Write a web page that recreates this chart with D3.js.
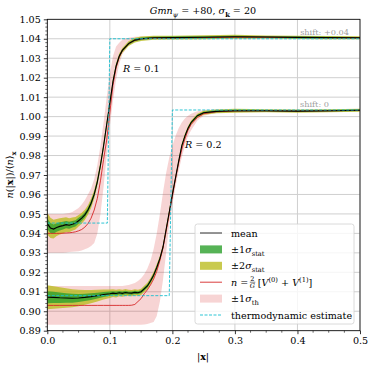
<!DOCTYPE html>
<html>
<head>
<meta charset="utf-8">
<script src="https://cdn.jsdelivr.net/npm/d3@7"></script>
<style>
  body { margin: 0; background: #fff; }
  svg text { font-family: "DejaVu Serif", serif !important; }
</style>
</head>
<body>
<div id="chart"></div>
<script>
// Size of the figure
const width = 374;
const height = 369;

// ---- data ----
// R = 0.1 (shifted by +0.04)
const x1 = [0, 0.005, 0.01, 0.015, 0.02, 0.025, 0.03, 0.035, 0.04, 0.045, 0.05, 0.055, 0.06, 0.065, 0.07, 0.075, 0.08, 0.085, 0.09, 0.095, 0.1, 0.105, 0.11, 0.115, 0.12, 0.13, 0.14, 0.15, 0.17, 0.2, 0.25, 0.3, 0.35, 0.4, 0.45, 0.5];
const mean1 = [0.9450, 0.9428, 0.9422, 0.9430, 0.9436, 0.9440, 0.9445, 0.9442, 0.9447, 0.9452, 0.9465, 0.9478, 0.9495, 0.9520, 0.9555, 0.9600, 0.9665, 0.9750, 0.9850, 0.9960, 1.0070, 1.0180, 1.0260, 1.0310, 1.0340, 1.0375, 1.0393, 1.0400, 1.0405, 1.0406, 1.0408, 1.0410, 1.0409, 1.0407, 1.0406, 1.0405];
const sig1 = [0.0028, 0.0026, 0.0024, 0.0022, 0.0021, 0.0020, 0.0019, 0.0018, 0.0017, 0.0016, 0.0015, 0.0014, 0.0013, 0.0012, 0.0012, 0.0011, 0.0010, 0.0010, 0.0009, 0.0009, 0.0008, 0.0008, 0.0007, 0.0007, 0.0006, 0.0006, 0.0006, 0.0006, 0.0005, 0.0005, 0.0005, 0.0005, 0.0004, 0.0004, 0.0004, 0.0004];
const theory1 = [0.9400, 0.9400, 0.9400, 0.9400, 0.9400, 0.9401, 0.9402, 0.9403, 0.9405, 0.9408, 0.9413, 0.9420, 0.9432, 0.9450, 0.9478, 0.9520, 0.9580, 0.9670, 0.9780, 0.9880, 1.0020, 1.0160, 1.0250, 1.0305, 1.0340, 1.0375, 1.0392, 1.0399, 1.0403, 1.0404, 1.0406, 1.0408, 1.0408, 1.0406, 1.0405, 1.0404];
const thLo1 = [0.9300, 0.9300, 0.9300, 0.9300, 0.9300, 0.9300, 0.9302, 0.9304, 0.9306, 0.9307, 0.9308, 0.9312, 0.9318, 0.9325, 0.9335, 0.9350, 0.9400, 0.9500, 0.9640, 0.9800, 0.9950, 1.0080, 1.0190, 1.0270, 1.0320, 1.0365, 1.0388, 1.0395, 1.0400, 1.0401, 1.0403, 1.0405, 1.0405, 1.0403, 1.0402, 1.0401];
const thHi1 = [0.9500, 0.9500, 0.9500, 0.9500, 0.9500, 0.9500, 0.9502, 0.9505, 0.9510, 0.9520, 0.9530, 0.9548, 0.9570, 0.9600, 0.9630, 0.9680, 0.9750, 0.9850, 0.9970, 1.0100, 1.0220, 1.0310, 1.0360, 1.0380, 1.0395, 1.0405, 1.0410, 1.0412, 1.0412, 1.0411, 1.0411, 1.0412, 1.0411, 1.0410, 1.0409, 1.0408];

// R = 0.2 (no shift)
const x2 = [0, 0.01, 0.02, 0.03, 0.04, 0.05, 0.06, 0.07, 0.08, 0.09, 0.1, 0.105, 0.11, 0.115, 0.12, 0.125, 0.13, 0.135, 0.14, 0.145, 0.15, 0.155, 0.16, 0.165, 0.17, 0.175, 0.18, 0.185, 0.19, 0.195, 0.2, 0.205, 0.21, 0.215, 0.22, 0.225, 0.23, 0.24, 0.25, 0.27, 0.3, 0.35, 0.4, 0.45, 0.5];
const mean2 = [0.9072, 0.9071, 0.9069, 0.9068, 0.9067, 0.9068, 0.9071, 0.9075, 0.9080, 0.9086, 0.9090, 0.9093, 0.9091, 0.9095, 0.9092, 0.9096, 0.9094, 0.9093, 0.9097, 0.9095, 0.9100, 0.9115, 0.9130, 0.9155, 0.9185, 0.9225, 0.9270, 0.9330, 0.9420, 0.9510, 0.9600, 0.9685, 0.9770, 0.9850, 0.9900, 0.9940, 0.9970, 1.0005, 1.0020, 1.0027, 1.0030, 1.0030, 1.0028, 1.0030, 1.0033];
const sig2 = [0.0031, 0.0029, 0.0027, 0.0025, 0.0023, 0.0021, 0.0019, 0.0017, 0.0015, 0.0013, 0.0011, 0.0010, 0.0010, 0.0009, 0.0009, 0.0009, 0.0008, 0.0008, 0.0008, 0.0008, 0.0008, 0.0008, 0.0008, 0.0008, 0.0008, 0.0008, 0.0007, 0.0007, 0.0007, 0.0007, 0.0007, 0.0006, 0.0006, 0.0006, 0.0006, 0.0005, 0.0005, 0.0005, 0.0005, 0.0005, 0.0005, 0.0004, 0.0004, 0.0004, 0.0004];
const theory2 = [0.9030, 0.9030, 0.9030, 0.9030, 0.9030, 0.9030, 0.9030, 0.9030, 0.9030, 0.9030, 0.9030, 0.9030, 0.9030, 0.9030, 0.9030, 0.9030, 0.9030, 0.9031, 0.9035, 0.9050, 0.9065, 0.9090, 0.9110, 0.9135, 0.9165, 0.9205, 0.9260, 0.9325, 0.9410, 0.9500, 0.9590, 0.9680, 0.9760, 0.9830, 0.9885, 0.9930, 0.9960, 0.9995, 1.0015, 1.0025, 1.0029, 1.0030, 1.0029, 1.0030, 1.0032];
const thLo2 = [0.8930, 0.8930, 0.8930, 0.8930, 0.8930, 0.8930, 0.8930, 0.8930, 0.8930, 0.8930, 0.8930, 0.8930, 0.8930, 0.8930, 0.8930, 0.8930, 0.8930, 0.8930, 0.8930, 0.8930, 0.8930, 0.8932, 0.8935, 0.8940, 0.8945, 0.8975, 0.9050, 0.9160, 0.9300, 0.9450, 0.9550, 0.9640, 0.9720, 0.9790, 0.9850, 0.9900, 0.9930, 0.9980, 1.0005, 1.0018, 1.0024, 1.0026, 1.0025, 1.0026, 1.0028];
const thHi2 = [0.9130, 0.9130, 0.9130, 0.9130, 0.9130, 0.9130, 0.9130, 0.9130, 0.9130, 0.9130, 0.9130, 0.9130, 0.9130, 0.9130, 0.9130, 0.9132, 0.9135, 0.9140, 0.9145, 0.9155, 0.9170, 0.9190, 0.9220, 0.9260, 0.9320, 0.9400, 0.9500, 0.9610, 0.9710, 0.9790, 0.9850, 0.9900, 0.9940, 0.9970, 0.9990, 1.0005, 1.0015, 1.0028, 1.0034, 1.0036, 1.0036, 1.0036, 1.0035, 1.0036, 1.0037];

// thermodynamic estimate (step shapes)
const thermoX1 = [0, 0.096, 0.1, 0.5];
const thermoY1 = [0.9453, 0.9453, 1.0400, 1.0400];
const thermoX2 = [0, 0.195, 0.2, 0.5];
const thermoY2 = [0.9080, 0.9080, 1.0034, 1.0034];

// ticks
const xTicks = [0, 0.1, 0.2, 0.3, 0.4, 0.5];
const yTicks = [0.89, 0.90, 0.91, 0.92, 0.93, 0.94, 0.95, 0.96, 0.97, 0.98, 0.99, 1.00, 1.01, 1.02, 1.03, 1.04, 1.05];

// colours
const cGreen = "#2ca02c", cOlive = "#bcbd22", cRed = "#d62728", cCyan = "#17becf";

const svg = d3.select("#chart").append("svg")
    .attr("width", width)
    .attr("height", height);

const x = d3.scaleLinear().domain([0, 0.5]).range([47.3, 360]);
const y = d3.scaleLinear().domain([0.89, 1.05]).range([330.7, 19.3]);

// build rows for the generators
const rows = (xs, m, s, t, lo, hi) => xs.map((v, i) => ({x: v, m: m[i], s: s[i], t: t[i], lo: lo[i], hi: hi[i]}));
const curves = [
    rows(x1, mean1, sig1, theory1, thLo1, thHi1),
    rows(x2, mean2, sig2, theory2, thLo2, thHi2)
];
const thermo = [
    thermoX1.map((v, i) => [v, thermoY1[i]]),
    thermoX2.map((v, i) => [v, thermoY2[i]])
];

svg.append("defs").append("clipPath").attr("id", "clip")
  .append("rect")
    .attr("x", x(0)).attr("y", y(1.05))
    .attr("width", x(0.5) - x(0)).attr("height", y(0.89) - y(1.05));

// grid
const grid = svg.append("g");
grid.selectAll(".gx").data(xTicks).enter().append("line")
    .attr("x1", d => x(d)).attr("x2", d => x(d))
    .attr("y1", y(0.89)).attr("y2", y(1.05))
    .style("stroke", "#cfcfcf").style("stroke-width", 1);
grid.selectAll(".gy").data(yTicks).enter().append("line")
    .attr("x1", x(0)).attr("x2", x(0.5))
    .attr("y1", d => y(d)).attr("y2", d => y(d))
    .style("stroke", "#cfcfcf").style("stroke-width", 1);

const plot = svg.append("g").attr("clip-path", "url(#clip)");

const band = (lo, hi) => d3.area().x(d => x(d.x)).y0(lo).y1(hi);
const line = (f) => d3.line().x(d => x(d.x)).y(f);

// theory uncertainty bands
curves.forEach(c => {
    plot.append("path").datum(c)
        .attr("d", band(d => y(d.lo), d => y(d.hi)))
        .style("fill", cRed).style("fill-opacity", 0.2);
});
// statistical bands
curves.forEach(c => {
    plot.append("path").datum(c)
        .attr("d", band(d => y(d.m - 2 * d.s), d => y(d.m + 2 * d.s)))
        .style("fill", cOlive).style("fill-opacity", 0.8);
});
curves.forEach(c => {
    plot.append("path").datum(c)
        .attr("d", band(d => y(d.m - d.s), d => y(d.m + d.s)))
        .style("fill", cGreen).style("fill-opacity", 0.8);
});
// theory lines
curves.forEach(c => {
    plot.append("path").datum(c)
        .attr("d", line(d => y(d.t)))
        .style("fill", "none").style("stroke", cRed).style("stroke-width", 0.9);
});
// mean lines
curves.forEach(c => {
    plot.append("path").datum(c)
        .attr("d", line(d => y(d.m)))
        .style("fill", "none").style("stroke", "#000").style("stroke-width", 1.1);
});
// thermodynamic estimate
thermo.forEach(t => {
    plot.append("path").datum(t)
        .attr("d", d3.line().x(d => x(d[0])).y(d => y(d[1])))
        .style("fill", "none").style("stroke", cCyan)
        .style("stroke-width", 0.9).style("stroke-dasharray", "3,1.5");
});

// axes
const fs = 9.6;
const xAxis = d3.axisBottom(x).tickValues(xTicks).tickFormat(d3.format(".1f")).tickSize(3.5).tickPadding(3);
const yAxis = d3.axisLeft(y).tickValues(yTicks).tickFormat(d3.format(".2f")).tickSize(3.5).tickPadding(3);
const gx = svg.append("g").attr("transform", `translate(0,${y(0.89)})`).call(xAxis);
const gy = svg.append("g").attr("transform", `translate(${x(0)},0)`).call(yAxis);
[gx, gy].forEach(g => {
    g.attr("font-family", null);
    g.select(".domain").remove();
    g.selectAll("text").style("font-size", fs + "px").style("fill", "#000");
    g.selectAll("line").style("stroke", "#000").style("stroke-width", 0.8);
});

// minor ticks
const xMinor = d3.range(0, 0.5001, 0.025).filter(v => Math.abs(v * 10 - Math.round(v * 10)) > 1e-6);
const yMinor = d3.range(0.89, 1.0501, 0.002).filter(v => Math.abs(v * 100 - Math.round(v * 100)) > 1e-6);
svg.append("g").selectAll("line").data(xMinor).enter().append("line")
    .attr("x1", d => x(d)).attr("x2", d => x(d))
    .attr("y1", y(0.89)).attr("y2", y(0.89) + 2)
    .style("stroke", "#000").style("stroke-width", 0.6);
svg.append("g").selectAll("line").data(yMinor).enter().append("line")
    .attr("x1", x(0) - 2).attr("x2", x(0))
    .attr("y1", d => y(d)).attr("y2", d => y(d))
    .style("stroke", "#000").style("stroke-width", 0.6);

// frame
svg.append("rect")
    .attr("x", x(0)).attr("y", y(1.05))
    .attr("width", x(0.5) - x(0)).attr("height", y(0.89) - y(1.05))
    .style("fill", "none").style("stroke", "#000").style("stroke-width", 0.8);

// rich text helper: parts = [[text, {i, b, sub, sup}]]
function rich(t, parts, size) {
    let shift = 0;
    parts.forEach(([s, o = {}]) => {
        const target = o.sub ? size * 0.28 : o.sup ? -size * 0.4 : 0;
        const ts = t.append("tspan").text(s)
            .attr("dy", target - shift)
            .style("font-size", (o.sub || o.sup ? size * 0.7 : size) + "px");
        if (o.i) ts.style("font-style", "italic");
        if (o.b) ts.style("font-weight", "bold");
        shift = target;
    });
    return t;
}

// title
rich(svg.append("text").attr("x", 203).attr("y", 14).attr("text-anchor", "middle"),
    [["Gmn", {i: 1}], ["ψ", {i: 1, sub: 1}], [" = +80,  "], ["σ", {i: 1}], ["k", {b: 1, sub: 1}], [" = 20"]], fs);

// axis labels
rich(svg.append("text").attr("x", 203).attr("y", 360).attr("text-anchor", "middle"),
    [["|"], ["x", {b: 1}], ["|"]], fs);
rich(svg.append("text").attr("transform", "translate(13,175) rotate(-90)").attr("text-anchor", "middle"),
    [["n", {i: 1}], ["(|"], ["x", {b: 1}], ["|)/⟨"], ["n", {i: 1}], ["⟩"], ["x", {b: 1, sub: 1}]], fs);

// annotations
svg.append("text").attr("x", 349).attr("y", 35).attr("text-anchor", "end")
    .style("font-size", "8.2px").style("fill", "#a0a0a0").text("shift: +0.04");
svg.append("text").attr("x", 300).attr("y", 107)
    .style("font-size", "8.2px").style("fill", "#a0a0a0").text("shift: 0");
rich(svg.append("text").attr("x", 123).attr("y", 72), [["R", {i: 1}], [" = 0.1"]], fs);
rich(svg.append("text").attr("x", 185).attr("y", 148), [["R", {i: 1}], [" = 0.2"]], fs);

// legend
const lg = svg.append("g");
lg.append("rect").attr("x", 195).attr("y", 224).attr("width", 159).attr("height", 100)
    .attr("rx", 2.5)
    .style("fill", "#fff").style("fill-opacity", 0.8)
    .style("stroke", "#d0d0d0").style("stroke-width", 0.8);
const rowY = i => 233 + i * 16.4;
const hx0 = 200, hx1 = 222, tx = 231;
// handles
lg.append("line").attr("x1", hx0).attr("x2", hx1).attr("y1", rowY(0)).attr("y2", rowY(0))
    .style("stroke", "#000").style("stroke-width", 1.1).style("opacity", 0.75);
lg.append("rect").attr("x", hx0).attr("y", rowY(1) - 4).attr("width", hx1 - hx0).attr("height", 8)
    .style("fill", cGreen).style("fill-opacity", 0.8);
lg.append("rect").attr("x", hx0).attr("y", rowY(2) - 4).attr("width", hx1 - hx0).attr("height", 8)
    .style("fill", cOlive).style("fill-opacity", 0.8);
lg.append("line").attr("x1", hx0).attr("x2", hx1).attr("y1", rowY(3)).attr("y2", rowY(3))
    .style("stroke", cRed).style("stroke-width", 0.9);
lg.append("rect").attr("x", hx0).attr("y", rowY(4) - 4).attr("width", hx1 - hx0).attr("height", 8)
    .style("fill", cRed).style("fill-opacity", 0.2);
lg.append("line").attr("x1", hx0).attr("x2", hx1).attr("y1", rowY(5)).attr("y2", rowY(5))
    .style("stroke", cCyan).style("stroke-width", 0.9).style("stroke-dasharray", "3,1.5");
// labels
const lt = (i) => lg.append("text").attr("x", tx).attr("y", rowY(i) + 3.5).style("font-size", fs + "px");
lt(0).text("mean");
rich(lt(1), [["±1"], ["σ", {i: 1}], ["stat", {sub: 1}]], fs);
rich(lt(2), [["±2"], ["σ", {i: 1}], ["stat", {sub: 1}]], fs);
const l3 = rich(lt(3), [["n", {i: 1}], [" = "]], fs);
const fx = tx + l3.node().getComputedTextLength() + 1.5;
lg.append("text").attr("x", fx + 2.5).attr("y", rowY(3) - 1.2).attr("text-anchor", "middle")
    .style("font-size", "6.5px").text("2");
lg.append("text").attr("x", fx + 2.5).attr("y", rowY(3) + 5.5).attr("text-anchor", "middle")
    .style("font-size", "6.5px").style("font-style", "italic").text("G");
lg.append("line").attr("x1", fx).attr("x2", fx + 5.5).attr("y1", rowY(3)).attr("y2", rowY(3))
    .style("stroke", "#000").style("stroke-width", 0.5);
rich(lg.append("text").attr("x", fx + 8).attr("y", rowY(3) + 3.5),
    [["[", {}], ["V", {i: 1}], ["(0)", {sup: 1}], [" + "], ["V", {i: 1}], ["(1)", {sup: 1}], ["]"]], fs);
rich(lt(4), [["±1"], ["σ", {i: 1}], ["th", {sub: 1}]], fs);
lt(5).text("thermodynamic estimate");
</script>
</body>
</html>
